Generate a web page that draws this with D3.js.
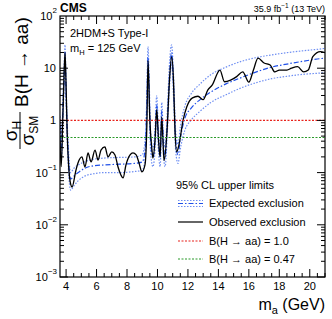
<!DOCTYPE html>
<html><head><meta charset="utf-8">
<script src="https://cdn.jsdelivr.net/npm/d3@7"></script>
<style>body{margin:0;background:#fff}svg{display:block;font-family:"Liberation Sans",Arial,sans-serif}</style>
</head><body><svg id="c" width="332" height="319"></svg>
<script>
// ---- data ----
const expMass = [3.6,3.7,3.8,3.9,3.93,3.97,4.05,4.15,4.3,4.5,4.8,5.2,5.8,6.5,7.5,8.5,9.0,9.2,9.3,9.38,9.46,9.55,9.7,9.85,9.95,10.05,10.18,10.28,10.38,10.5,10.65,10.8,10.93,11.05,11.2,11.35,11.5,11.8,12.2,12.8,13.5,14.5,15.5,16.5,17.5,18.5,19.5,20.5,21];
const expMedian = [0.8,0.3,2,12,20,8,1,0.2,0.075,0.085,0.1,0.12,0.135,0.14,0.145,0.15,0.16,0.3,2,16,3,0.4,0.2,0.5,2,0.5,0.2,1.5,0.4,0.2,1,8,20,5,0.4,0.22,0.45,1.1,1.7,2.5,3.5,5,6.6,8.5,10.5,12,13.5,15,15.6];
const expLow = [0.5,0.2,1.2,8,14,5,0.6,0.12,0.046,0.055,0.07,0.085,0.095,0.1,0.1,0.105,0.11,0.2,1.2,10,2,0.25,0.13,0.3,1.3,0.3,0.13,1,0.25,0.13,0.6,5,13,3,0.25,0.15,0.28,0.65,1.0,1.5,2.2,3.1,4.2,5.3,6.3,7.0,7.6,8.0,8.2];
const expHigh = [1.2,0.45,3,18,28,12,1.5,0.3,0.1,0.12,0.14,0.16,0.18,0.19,0.195,0.2,0.22,0.45,3,26,5,0.6,0.3,0.8,3,0.8,0.3,2.2,0.6,0.3,1.6,14,28,8,0.6,0.35,0.75,1.9,3.2,5,7.5,10.5,13.5,16,18,19.8,21.5,23,24];
const obsMass = [3.6,3.68,3.78,3.87,3.93,3.99,4.07,4.17,4.3,4.39,4.65,4.78,5.04,5.24,5.44,5.64,5.9,6.1,6.29,6.55,6.75,7.0,7.21,7.41,7.6,7.74,7.93,8.2,8.39,8.6,8.79,8.98,9.18,9.31,9.38,9.5,9.64,9.7,9.84,9.95,10.07,10.17,10.28,10.36,10.43,10.63,10.79,10.93,11.05,11.15,11.26,11.41,11.68,11.92,12.3,12.66,13.0,13.3,13.6,14.1,14.4,14.8,15.2,15.6,16.0,16.3,16.6,17.0,17.4,17.7,18.0,18.5,18.8,19.2,19.6,19.9,20.2,20.7,21];
const obsLimit = [0.4,0.13,1,8,20,6,0.6,0.13,0.06,0.053,0.112,0.153,0.2,0.128,0.238,0.16,0.27,0.174,0.27,0.31,0.2,0.25,0.218,0.128,0.09,0.079,0.14,0.218,0.238,0.218,0.153,0.103,0.14,1,14,1,0.27,0.19,0.42,1.6,0.42,0.2,1.16,0.42,0.17,0.65,6,16.5,6,0.65,0.25,0.34,1.0,1.8,2.7,2.9,2.5,3.8,4.8,9.2,5.5,5.9,6.9,8.5,5.4,9.2,15.6,12.6,11.5,8.5,9.2,9.2,10,10.7,8.5,9.2,16.6,20.8,19.8];
const brLines = [1.0, 0.47];
const xTicks = [4,6,8,10,12,14,16,18,20];
const yTicks = [1e-3,1e-2,1e-1,1,10,100];
const yTickLabels = [["10","−3"],["10","−2"],["10","−1"],["1",""],["10",""],["10","2"]];
const legendLabels = ["95% CL upper limits","Expected exclusion","Observed exclusion","B(H \u2192 aa) = 1.0","B(H \u2192 aa) = 0.47"];

// ---- layout ----
const L=60,R=325,T=16,B=277;
const svg=d3.select("#c");
const x=d3.scaleLinear().domain([3.6,21]).range([L,R]);
const y=d3.scaleLog().domain([1e-3,100]).range([B,T]);
const blue="#2050e8", lblue="#6f8ff2";

const clip=svg.append("clipPath").attr("id","cp").append("rect").attr("x",L).attr("y",T).attr("width",R-L).attr("height",B-T);
const g=svg.append("g").attr("clip-path","url(#cp)");
const line=(xs,ys)=>d3.line().x((d,i)=>x(xs[i])).y(d=>y(d)).curve(d3.curveMonotoneX)(ys);

g.append("path").attr("d",line(expMass,expHigh)).attr("fill","none").attr("stroke",lblue).attr("stroke-width",1.2).attr("stroke-dasharray","1.5,1.5");
g.append("path").attr("d",line(expMass,expLow)).attr("fill","none").attr("stroke",lblue).attr("stroke-width",1.2).attr("stroke-dasharray","1.5,1.5");
g.append("path").attr("d",line(expMass,expMedian)).attr("fill","none").attr("stroke",blue).attr("stroke-width",1.2).attr("stroke-dasharray","5,2,1.5,2");
g.append("path").attr("d",line(obsMass,obsLimit)).attr("fill","none").attr("stroke","#000").attr("stroke-width",1.3);
const brColors=["#e8231c","#2a9a2a"];
brLines.forEach((v,i)=>g.append("line").attr("x1",L).attr("x2",R).attr("y1",y(v)).attr("y2",y(v)).attr("stroke",brColors[i]).attr("stroke-width",1.2).attr("stroke-dasharray","2,1.5"));

// frame
svg.append("rect").attr("x",L).attr("y",T).attr("width",R-L).attr("height",B-T).attr("fill","none").attr("stroke","#000").attr("stroke-width",1.2);

// x ticks (inside, bottom and top)
const xt=svg.append("g").attr("stroke","#000").attr("stroke-width",1);
for(let m=4;m<=21;m+=0.5){
  const len=(m%2===0)?8:4;
  xt.append("line").attr("x1",x(m)).attr("x2",x(m)).attr("y1",B).attr("y2",B-len);
  xt.append("line").attr("x1",x(m)).attr("x2",x(m)).attr("y1",T).attr("y2",T+len);
}
svg.append("g").selectAll("text").data(xTicks).join("text").attr("x",d=>x(d)).attr("y",B+13).attr("text-anchor","middle").attr("font-size",11).text(d=>d);

// y ticks
const yt=svg.append("g").attr("stroke","#000").attr("stroke-width",1);
for(let e=-3;e<2;e++){
  for(let k=1;k<10;k++){
    const v=k*Math.pow(10,e);
    const len=k===1?8:4;
    yt.append("line").attr("x1",L).attr("x2",L+len).attr("y1",y(v)).attr("y2",y(v));
    yt.append("line").attr("x1",R).attr("x2",R-len).attr("y1",y(v)).attr("y2",y(v));
  }
}
yTicks.forEach((v,i)=>{
  const [b,s]=yTickLabels[i];
  if(s){
    svg.append("text").attr("x",L-3).attr("y",y(v)-3).attr("text-anchor","end").attr("font-size",8).text(s);
    const sw= s.length*4.6;
    svg.append("text").attr("x",L-3-sw).attr("y",y(v)+4).attr("text-anchor","end").attr("font-size",11).text(b);
  } else {
    svg.append("text").attr("x",L-4).attr("y",y(v)+4).attr("text-anchor","end").attr("font-size",11).text(b);
  }
});

// header
svg.append("text").attr("x",L).attr("y",12).attr("font-size",12).attr("font-weight","bold").text("CMS");
const lumi=svg.append("text").attr("x",R).attr("y",12).attr("text-anchor","end").attr("font-size",9);
lumi.append("tspan").text("35.9 fb");
lumi.append("tspan").attr("dy",-4).attr("font-size",6.5).text("−1");
lumi.append("tspan").attr("dy",4).text(" (13 TeV)");

svg.append("text").attr("x",70).attr("y",37).attr("font-size",11).text("2HDM+S Type-I");
const mh=svg.append("text").attr("x",70).attr("y",52).attr("font-size",11);
mh.append("tspan").text("m");
mh.append("tspan").attr("dy",3).attr("font-size",7.5).text("H");
mh.append("tspan").attr("dy",-3).text(" = 125 GeV");

// x label
const xl=svg.append("text").attr("x",R).attr("y",310).attr("text-anchor","end").attr("font-size",16);
xl.append("tspan").text("m");
xl.append("tspan").attr("dy",4).attr("font-size",11).text("a");
xl.append("tspan").attr("dy",-4).text(" (GeV)");

// y label
const yl=svg.append("g").attr("transform","translate(20,149) rotate(-90)");
yl.append("line").attr("x1",0).attr("x2",37).attr("y1",0).attr("y2",0).attr("stroke","#000").attr("stroke-width",1);
const num=yl.append("text").attr("x",18).attr("y",-3).attr("text-anchor","middle").attr("font-size",19);
num.append("tspan").text("σ");
num.append("tspan").attr("dy",4).attr("font-size",12).text("H");
const den=yl.append("text").attr("x",18.5).attr("y",14).attr("text-anchor","middle").attr("font-size",19);
den.append("tspan").text("σ");
den.append("tspan").attr("dy",4).attr("font-size",12).text("SM");
yl.append("text").attr("x",42).attr("y",8).attr("font-size",19).text("B(H \u2192 aa)");

// legend
const lx=178, tx=209, ly=[189,207,226,245,263];
svg.append("text").attr("x",176).attr("y",ly[0]).attr("font-size",11).text(legendLabels[0]);
for(let i=1;i<5;i++) svg.append("text").attr("x",tx).attr("y",ly[i]).attr("font-size",11).text(legendLabels[i]);
[200.5,203.5,206.5].forEach((yy,j)=>svg.append("line").attr("x1",lx).attr("x2",203).attr("y1",yy).attr("y2",yy).attr("stroke",j===1?blue:lblue).attr("stroke-width",1.2).attr("stroke-dasharray",j===1?"5,2,1.5,2":"1.5,1.5"));
svg.append("line").attr("x1",lx).attr("x2",203).attr("y1",ly[2]-4).attr("y2",ly[2]-4).attr("stroke","#000").attr("stroke-width",1.2);
svg.append("line").attr("x1",lx).attr("x2",203).attr("y1",ly[3]-4).attr("y2",ly[3]-4).attr("stroke",brColors[0]).attr("stroke-width",1.2).attr("stroke-dasharray","2,1.5");
svg.append("line").attr("x1",lx).attr("x2",203).attr("y1",ly[4]-4).attr("y2",ly[4]-4).attr("stroke",brColors[1]).attr("stroke-width",1.2).attr("stroke-dasharray","2,1.5");
</script></body></html>
